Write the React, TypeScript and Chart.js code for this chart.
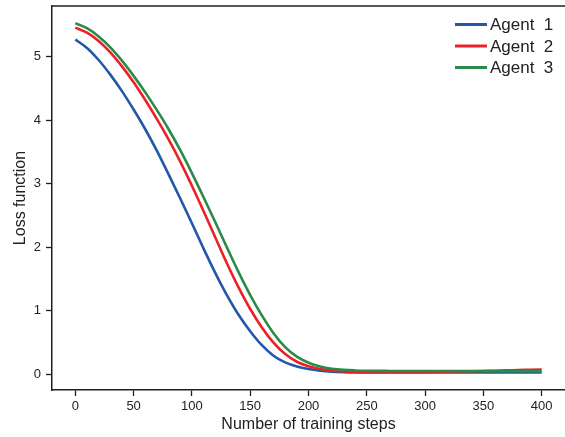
import React, { useEffect, useRef } from "react";
import { Chart, registerables } from "chart.js";

Chart.register(...registerables);

const steps = [0, 10, 20, 30, 40, 50, 60, 70, 80, 90, 100, 110, 120, 130, 140, 150, 160, 170, 180, 190, 200, 210, 220, 230, 240, 250, 260, 270, 280, 290, 300, 310, 320, 330, 340, 350, 360, 370, 380, 390, 400];

const agent1 = [5.27, 5.14, 4.95, 4.72, 4.46, 4.17, 3.86, 3.52, 3.15, 2.77, 2.38, 1.98, 1.6, 1.25, 0.94, 0.68, 0.46, 0.295, 0.19, 0.125, 0.085, 0.06, 0.045, 0.037, 0.033, 0.031, 0.03, 0.03, 0.03, 0.03, 0.03, 0.03, 0.03, 0.03, 0.03, 0.03, 0.03, 0.03, 0.03, 0.03, 0.03];

const agent2 = [5.46, 5.38, 5.25, 5.07, 4.85, 4.6, 4.32, 4.02, 3.7, 3.35, 2.97, 2.57, 2.16, 1.75, 1.37, 1.03, 0.74, 0.5, 0.32, 0.2, 0.13, 0.085, 0.06, 0.048, 0.041, 0.037, 0.035, 0.034, 0.034, 0.035, 0.037, 0.04, 0.043, 0.047, 0.051, 0.055, 0.059, 0.064, 0.068, 0.073, 0.078];

const agent3 = [5.53, 5.45, 5.32, 5.15, 4.94, 4.7, 4.44, 4.16, 3.86, 3.53, 3.17, 2.79, 2.4, 2.0, 1.61, 1.25, 0.93, 0.65, 0.43, 0.28, 0.185, 0.125, 0.09, 0.072, 0.063, 0.058, 0.056, 0.055, 0.054, 0.054, 0.054, 0.053, 0.053, 0.053, 0.052, 0.052, 0.052, 0.051, 0.051, 0.05, 0.05];

const seriesLabels = ["Agent  1", "Agent  2", "Agent  3"];
const seriesColors = ["#2357a8", "#ec2027", "#2b8a48"];

const xTicks = [0, 50, 100, 150, 200, 250, 300, 350, 400];
const yTicks = [0, 1, 2, 3, 4, 5];

const xTitle = "Number of training steps";
const yTitle = "Loss function";

const FONT = "'Liberation Sans', Arial, Helvetica, sans-serif";
const AXIS = "#231f20";

const framePlugin = {
  id: "frame",
  afterDraw(chart: any) {
    const { ctx, chartArea } = chart;
    ctx.save();
    ctx.strokeStyle = AXIS;
    ctx.lineWidth = 1.5;
    ctx.beginPath();
    ctx.moveTo(chartArea.left, chartArea.top);
    ctx.lineTo(chartArea.right, chartArea.top);
    ctx.stroke();

    // legend (upper right, inside plot)
    const datasets = chart.data.datasets;
    ctx.font = `17px ${FONT}`;
    ctx.textBaseline = "middle";
    ctx.textAlign = "left";
    for (let i = 0; i < datasets.length; i++) {
      const y = chartArea.top + 18.5 + i * 21.5;
      ctx.strokeStyle = datasets[i].borderColor;
      ctx.lineWidth = 3;
      ctx.beginPath();
      ctx.moveTo(455, y);
      ctx.lineTo(487, y);
      ctx.stroke();
      ctx.fillStyle = "#222";
      ctx.fillText(datasets[i].label, 490, y + 1);
    }
    ctx.restore();
  },
};

export default function App() {
  const ref = useRef<HTMLCanvasElement | null>(null);

  useEffect(() => {
    if (!ref.current) return;
    const mk = (vals: number[]) => steps.map((s, i) => ({ x: s, y: vals[i] }));
    const all = [agent1, agent2, agent3];
    const chart = new Chart(ref.current, {
      type: "line",
      data: {
        datasets: all.map((vals, i) => ({
          label: seriesLabels[i],
          data: mk(vals),
          borderColor: seriesColors[i],
          backgroundColor: seriesColors[i],
          borderWidth: 2.6,
          pointRadius: 0,
          fill: false,
          cubicInterpolationMode: "monotone" as const,
          order: 2 - i,
        })),
      },
      options: {
        responsive: false,
        animation: false,
        layout: { padding: { top: 6, right: 0, left: 0, bottom: 0 } },
        plugins: {
          legend: { display: false },
          tooltip: { enabled: false },
        },
        scales: {
          x: {
            type: "linear",
            min: -20,
            max: 420,
            afterBuildTicks: (scale: any) => {
              scale.ticks = xTicks.map((v) => ({ value: v }));
            },
            afterFit: (scale: any) => {
              scale.height = 47;
              scale.paddingLeft = 0;
              scale.paddingRight = 0;
            },
            grid: {
              display: true,
              drawOnChartArea: false,
              drawTicks: true,
              tickLength: 6,
              tickWidth: 1.3,
              color: AXIS,
            },
            border: { display: true, color: AXIS, width: 1.5 },
            ticks: {
              color: "#222",
              font: { family: FONT, size: 13 },
              padding: 3,
              maxRotation: 0,
              autoSkip: false,
            },
            title: {
              display: true,
              text: xTitle,
              color: "#222",
              font: { family: FONT, size: 16 },
              padding: { top: 0, bottom: 3 },
            },
          },
          y: {
            type: "linear",
            min: -0.245,
            max: 5.8,
            afterBuildTicks: (scale: any) => {
              scale.ticks = yTicks.map((v) => ({ value: v }));
            },
            afterFit: (scale: any) => {
              scale.width = 52;
              scale.paddingTop = 0;
              scale.paddingBottom = 0;
            },
            grid: {
              display: true,
              drawOnChartArea: false,
              drawTicks: true,
              tickLength: 6,
              tickWidth: 1.3,
              color: AXIS,
            },
            border: { display: true, color: AXIS, width: 1.5 },
            ticks: {
              color: "#222",
              font: { family: FONT, size: 13 },
              padding: 5,
              autoSkip: false,
            },
            title: {
              display: true,
              text: yTitle,
              color: "#222",
              font: { family: FONT, size: 16 },
              padding: { top: 11, bottom: 0 },
            },
          },
        },
      },
      plugins: [framePlugin],
    });
    return () => chart.destroy();
  }, []);

  return (
    <div style={{ position: "fixed", left: 0, top: 0, width: 565, height: 437, background: "#fff" }}>
      <canvas ref={ref} width={565} height={437} style={{ display: "block" }} />
    </div>
  );
}
